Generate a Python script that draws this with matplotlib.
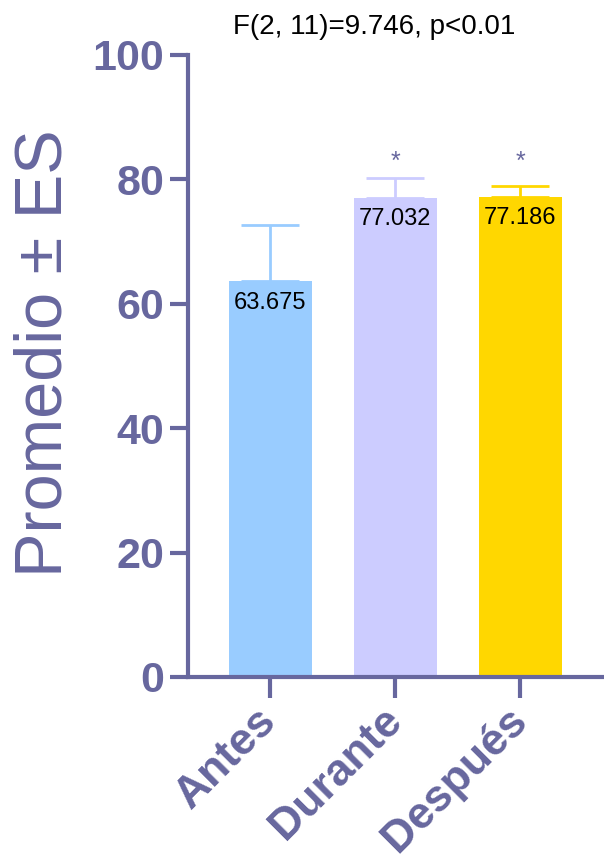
import matplotlib
matplotlib.use("Agg")
import matplotlib.pyplot as plt

groups = ["Antes", "Durante", "Después"]
means = [63.675, 77.032, 77.186]
errors = [9.0, 3.2, 1.7]
bar_colors = ["#99ccff", "#ccccff", "#ffd700"]
stars = ["", "*", "*"]
star_level = 82.8
title = "F(2, 11)=9.746, p<0.01"

axis_color = "#67679e"
plt.rcParams["font.family"] = ["Liberation Sans", "DejaVu Sans"]

fig = plt.figure(figsize=(6.04, 8.59), dpi=100)
ax = fig.add_axes([188 / 604, 182 / 859, 416 / 604, 622 / 859])

x = list(range(len(groups)))
ax.bar(x, means, width=0.666, color=bar_colors, zorder=2)
for i in x:
    ax.errorbar(i, means[i], yerr=[[0], [errors[i]]], color=bar_colors[i],
                capsize=21, elinewidth=2, capthick=2, zorder=1)
    ax.text(i, means[i] - 1.7, "%.3f" % means[i], ha="center", va="top",
            fontsize=17, color="black", zorder=3)
    if stars[i]:
        ax.text(i, star_level, stars[i], ha="center", va="center",
                fontsize=18, color=axis_color)

ax.set_xlim(-0.66, 2.67)
ax.set_ylim(0, 100)
ax.set_yticks([0, 20, 40, 60, 80, 100])
ax.set_xticks(x)
ax.set_xticklabels(groups, rotation=45, ha="right", va="center", rotation_mode="anchor",
                   fontsize=32, fontweight="bold", color=axis_color)
for lab in ax.get_yticklabels():
    lab.set_fontsize(31)
    lab.set_fontweight("bold")
    lab.set_color(axis_color)

for side in ["top", "right"]:
    ax.spines[side].set_visible(False)
for side in ["left", "bottom"]:
    ax.spines[side].set_color(axis_color)
    ax.spines[side].set_linewidth(3)
ax.tick_params(axis="both", colors=axis_color, width=3, length=13)
ax.tick_params(axis="x", length=15, pad=12)
ax.tick_params(axis="y", pad=4)

ax.set_ylabel("Promedio ± ES", fontsize=48, color=axis_color)
ax.yaxis.set_label_coords(-0.27, 0.52)
fig.text(374 / 604, 1 - 27 / 859, title, ha="center", va="center", fontsize=20, color="black")

fig.savefig("out.png", dpi=100)
